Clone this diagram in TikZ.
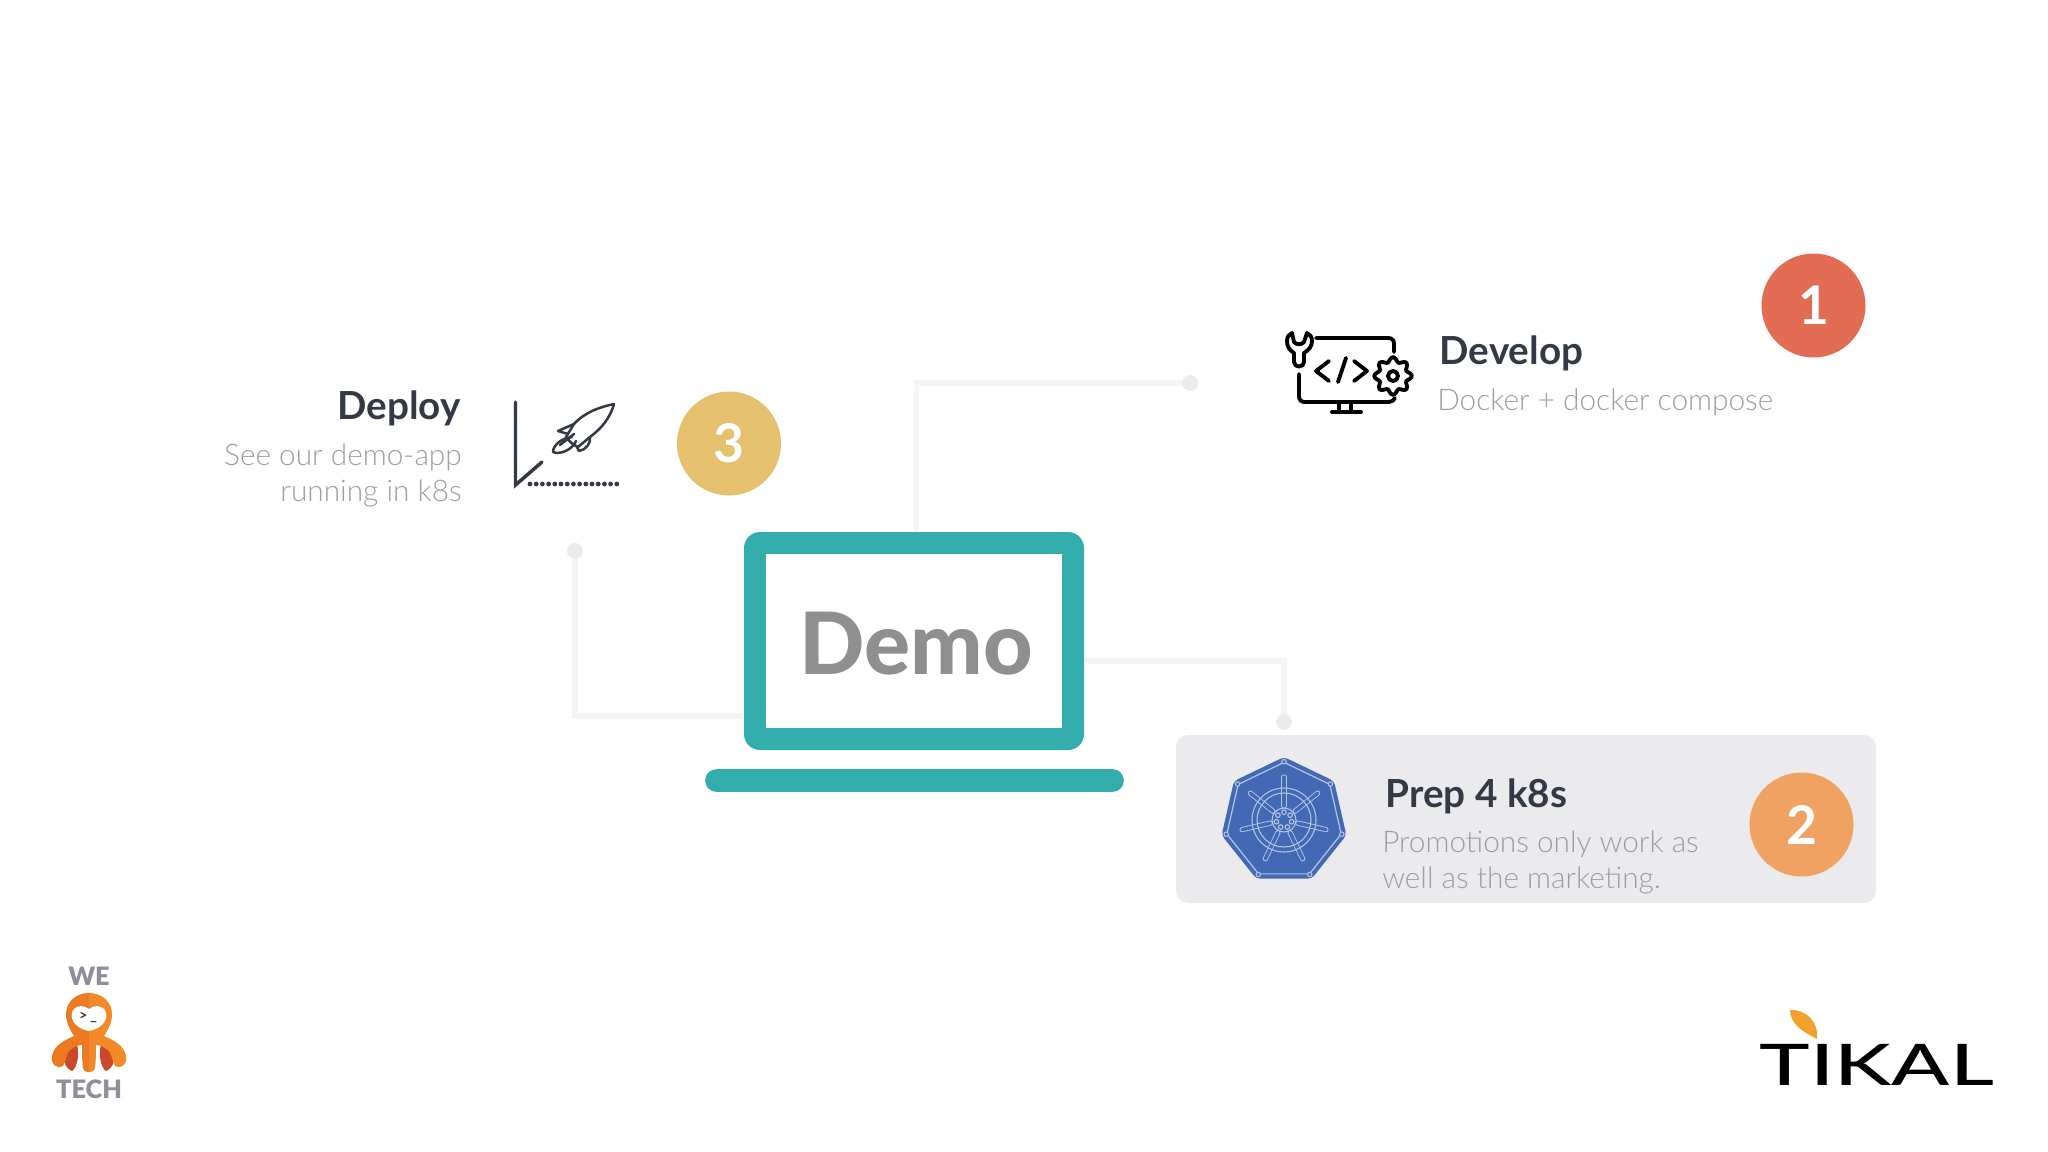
\documentclass[tikz,border=0pt]{standalone}
\usepackage{fontspec}
\setmainfont{Lato}
\newfontfamily\latolight{Lato Light}
\newfontfamily\latoheavy{Lato Heavy}
\newfontfamily\latoblack{Lato Black}
\newfontfamily\latomedium{Lato Medium}
\usetikzlibrary{shapes.geometric}
\definecolor{inkdark}{HTML}{333A45}
\definecolor{inklight}{HTML}{9E9EA1}
\definecolor{wirecol}{HTML}{F4F4F5}
\definecolor{dotcol}{HTML}{EBEBED}
\definecolor{tealcol}{HTML}{32ADAB}
\definecolor{democol}{HTML}{8F8E91}
\definecolor{stepone}{HTML}{E36C55}
\definecolor{steptwo}{HTML}{F0A262}
\definecolor{stepthree}{HTML}{E4C06F}
\definecolor{kubeblue}{HTML}{4369B5}
\definecolor{kubeline}{HTML}{B4C6E8}
\definecolor{octoorange}{HTML}{EC7A22}
\definecolor{octolight}{HTML}{F28A2A}
\definecolor{octored}{HTML}{C9492A}
\definecolor{wetechgrey}{HTML}{8F8E9A}
\definecolor{leafcol}{HTML}{F2A02E}
\tikzset{
  titletext/.style={font=\fontsize{29}{34}\selectfont\bfseries,text=inkdark,inner sep=0pt},
  subtext/.style={font=\fontsize{22.35}{27}\selectfont\latolight,text=inklight,inner sep=0pt},
  stepdisc/.style={circle,minimum size=78pt,inner sep=0pt,text=white,font=\fontsize{40}{40}\selectfont\bfseries},
  wireline/.style={draw=wirecol,line width=4pt},
  wiredot/.style={circle,fill=dotcol,minimum size=12pt,inner sep=0pt},
  iconline/.style={draw=black,line width=2.9pt,line cap=round,line join=round},
  rocketline/.style={draw=inkdark,line width=1.9pt,line cap=round,line join=round},
  kubethin/.style={draw=kubeline,line width=0.8pt},
  logotext/.style={font=\fontsize{19}{19}\selectfont\latoblack,text=wetechgrey,inner sep=0pt},
}
\begin{document}
\begin{tikzpicture}[x=0.75pt,y=0.75pt,yscale=-1,xscale=1]
\useasboundingbox (0,0) rectangle (2048,1152);

%Shape: Rectangle [id:card]
\draw (1526,819) node [fill=dotcol,rounded corners=9pt,minimum width=525pt,minimum height=126pt,inner sep=0pt] (card) {};

% Laptop
\draw (914,641) node [fill=tealcol,rounded corners=12pt,minimum width=255pt,minimum height=163.5pt,inner sep=0pt] (laptop) {};
\draw (914,641) node [fill=white,minimum width=222pt,minimum height=130.5pt,inner sep=0pt] (screen) {};
\draw (916,674) node [anchor=base,inner sep=0pt,text=democol,font=\fontsize{64.5}{65}\selectfont\latoheavy] (demotext) {Demo};
\draw (914.5,780.5) node [fill=tealcol,rounded corners=8.4pt,minimum width=314pt,minimum height=17pt,inner sep=0pt] (laptopbase) {};

% Wire ends
\draw (1190,383) node [wiredot] (dotdevelop) {};
\draw (1284,722) node [wiredot] (dotprep) {};
\draw (575,551) node [wiredot] (dotdeploy) {};
\coordinate (topport) at (916.5,532);
\coordinate (leftport) at (744,716);
\coordinate (rightport) at (1084,661);

%Straight Lines
\draw [wireline] (topport) |- (dotdevelop);
\draw [wireline] (rightport) -| (dotprep);
\draw [wireline] (dotdeploy) |- (leftport);

% Step discs
\draw (1813.5,305.5) node [stepdisc,fill=stepone] (stepa) {1};
\draw (1801.5,824.5) node [stepdisc,fill=steptwo] (stepb) {\raisebox{-1pt}{2}};
\draw (729,443.5) node [stepdisc,fill=stepthree] (stepc) {\raisebox{-2pt}{3}};

% Text Node
\draw (1439.5,364) node [titletext,anchor=base west] (developtitle) {Develop};
\draw (1437,410) node [subtext,anchor=base west] (developsub) {Docker + docker compose};
% Text Node
\draw (461,419) node [titletext,anchor=base east] (deploytitle) {Deploy};
\draw (462,465) node [subtext,anchor=base east] (deploysuba) {See our demo-app};
\draw (462,501) node [subtext,anchor=base east] (deploysubb) {running in k8s};
% Text Node
\draw (1385.5,807) node [titletext,anchor=base west] (preptitle) {Prep 4 k8s};
\draw (1382,852) node [subtext,anchor=base west] (prepsuba) {Promotions only work as};
\draw (1382,888) node [subtext,anchor=base west] (prepsubb) {well as the marketing.};

% Develop icon
\draw [iconline] (1316,338) -- (1388,338) .. controls (1392,338) and (1394,340) .. (1394,344) -- (1394,352);
\draw [iconline] (1299,374) -- (1299,396) .. controls (1299,400) and (1301,402) .. (1305,402) -- (1389,402) .. controls (1392,402) and (1394,400) .. (1395,398);
\draw [iconline] (1339,402) -- (1339,412) (1351,402) -- (1351,412) (1332,412) -- (1361,412);
\draw [iconline] (1294,362) -- (1294,353) .. controls (1289,350) and (1287,346) .. (1287,341) .. controls (1287,337) and (1289,334) .. (1292,333) -- (1294,342) .. controls (1296,345) and (1302,345) .. (1304,342) -- (1307,333) .. controls (1310,334) and (1312,337) .. (1312,341) .. controls (1312,346) and (1309,350) .. (1304,353) -- (1304,362) .. controls (1304,368) and (1294,368) .. (1294,362) -- cycle;
\draw [iconline] (1329,361) -- (1316,371) -- (1329,381);
\draw [iconline] (1346,358) -- (1338,382);
\draw [iconline] (1354,361) -- (1367,371) -- (1354,381);
\draw [iconline] plot [domain=0:360,samples=121,smooth] ({1393+(16.5+2.2*cos(8*\x))*cos(\x)},{376+(16.5+2.2*cos(8*\x))*sin(\x)});
\draw [iconline] (1393,376) circle [radius=5];

% Deploy icon
\draw [draw=inkdark,line width=2.6pt,line cap=round] (515.5,402) -- (515.5,485) -- (542,462);
\foreach \dotx in {0,...,14}
  \fill [inkdark] (530+6.2*\dotx,484) circle [radius=2.4];
\draw [rocketline] (614,404) .. controls (600,407) and (585,412) .. (574,424) -- (566,437) .. controls (570,442) and (573,445) .. (578,447) -- (590,437) .. controls (602,428) and (610,418) .. (614,404) -- cycle;
\draw [rocketline] (574,424) -- (558,431) -- (568,434);
\draw [rocketline] (590,437) .. controls (591,443) and (586,450) .. (579,451) -- (577,447);
\draw [rocketline] (572,437) .. controls (562,438) and (553,445) .. (553,452) .. controls (560,455) and (572,450) .. (576,441);
\draw [rocketline] (560,445) -- (574,434);

% Kubernetes badge
\draw (1284,821) node [regular polygon,regular polygon sides=7,fill=kubeblue,rounded corners=3pt,minimum size=96pt,inner sep=0pt] (kubeouter) {};
\draw (1284,821) node [regular polygon,regular polygon sides=7,draw=kubeline,line width=0.9pt,minimum size=88pt,inner sep=0pt] (kubeinner) {};
\foreach \cornerno in {1,...,7}
  \draw [kubethin,fill=kubeblue] (kubeinner.corner \cornerno) circle [radius=2.2];
\begin{scope}[shift={(1284,820)}]
  \foreach \spoke in {-90,-38.57,12.86,64.29,115.71,167.14,218.57}{
    \draw [draw=kubeline,line width=3.9pt,line cap=round] (\spoke:14) -- (\spoke:43);
    \draw [draw=kubeblue,line width=2.6pt,line cap=round] (\spoke:14) -- (\spoke:43);
  }
  \draw [kubethin] (0,0) circle [radius=32];
  \draw [kubethin] (0,0) circle [radius=27];
  \draw [kubethin,fill=kubeblue] (0,0) circle [radius=12];
  \foreach \spoke in {-90,-38.57,12.86,64.29,115.71,167.14,218.57}
    \draw [kubethin] (\spoke:7.8) circle [radius=2.3];
\end{scope}

% We Tech logo
\draw (89,985) node [logotext,anchor=base] (wetext) {WE};
\draw (89,1098.5) node [logotext,anchor=base] (techtext) {TECH};
\fill [octored] (65,1046) .. controls (61,1056) and (64,1068) .. (72,1071) .. controls (78,1067) and (80,1052) .. (76,1040) -- cycle;
\fill [octored] (113,1046) .. controls (117,1056) and (114,1068) .. (106,1071) .. controls (100,1067) and (98,1052) .. (102,1040) -- cycle;
\fill [octoorange] (89,993) .. controls (76,993) and (66,1002) .. (66,1014) .. controls (66,1024) and (71,1031) .. (74,1036) .. controls (65,1040) and (54,1045) .. (52,1056) .. controls (50,1064) and (58,1070) .. (63,1066) .. controls (67,1060) and (65,1052) .. (73,1048) .. controls (76,1046) and (80,1045) .. (82,1045) .. controls (82,1052) and (82,1060) .. (83,1068) .. controls (84,1072) and (88,1072) .. (89,1072) -- cycle;
\fill [octolight] (89,993) .. controls (102,993) and (112,1002) .. (112,1014) .. controls (112,1024) and (107,1031) .. (104,1036) .. controls (113,1040) and (124,1045) .. (126,1056) .. controls (128,1064) and (120,1070) .. (115,1066) .. controls (111,1060) and (113,1052) .. (105,1048) .. controls (102,1046) and (98,1045) .. (96,1045) .. controls (96,1052) and (96,1060) .. (95,1068) .. controls (94,1072) and (90,1072) .. (89,1072) -- cycle;
\fill [white] (89,1009) .. controls (84,1005) and (77,1005) .. (73,1010) .. controls (69,1018) and (74,1028) .. (89,1031) .. controls (104,1028) and (109,1018) .. (105,1010) .. controls (101,1005) and (94,1005) .. (89,1009) -- cycle;
\draw (88,1020) node [anchor=base,inner sep=0pt,text=inkdark,font=\fontsize{11}{11}\selectfont\bfseries] (octoprompt) {>\,\_};

% Tikal logo
\fill [leafcol] (1790,1010) .. controls (1806,1009) and (1819,1022) .. (1817,1039) .. controls (1803,1032) and (1790,1024) .. (1790,1010) -- cycle;
\draw (1877,1085) node [anchor=base,inner sep=0pt,text=black,font=\fontsize{43}{44}\selectfont\latomedium] (tikaltext) {\scalebox{1.49}[1]{TIKAL}};

\end{tikzpicture}
\end{document}
